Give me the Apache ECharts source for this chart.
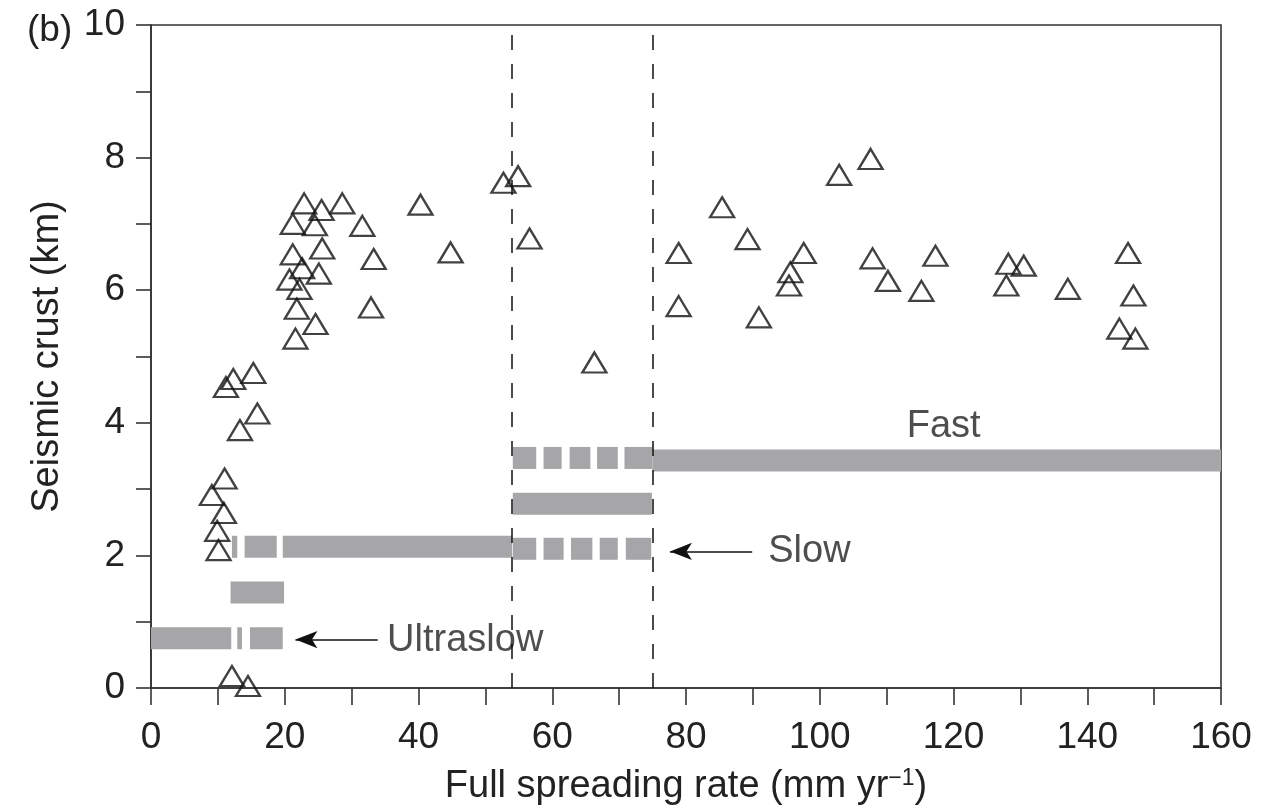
<!DOCTYPE html>
<html>
<head>
<meta charset="utf-8">
<script src="https://cdn.jsdelivr.net/npm/echarts@6/dist/echarts.min.js"></script>
<style>
  html, body { margin: 0; padding: 0; background: #fff; }
  #chart { width: 1271px; height: 811px; }
</style>
</head>
<body>
<div id="chart"></div>
<script>
// Spreading rate (mm/yr) and seismic crustal thickness (km) of each site
const rateX = [
  22.9, 25.5, 28.6, 40.3, 21.2, 24.5, 31.6, 21.2, 25.6, 33.3, 44.8,
  22.6, 25.1, 20.7, 22.2, 21.8, 32.9, 24.6, 21.6, 52.7, 54.9, 56.6,
  12.3, 15.3, 11.2, 15.9, 13.3, 11.0, 9.1, 10.9, 9.9, 10.1, 12.1, 14.5,
  66.3, 85.4, 102.9, 107.6, 78.9, 89.2, 97.6, 95.6, 95.4, 107.9, 110.2,
  78.9, 90.9, 117.3, 115.2, 128.2, 130.5, 127.9, 137.1, 146.1, 146.9,
  144.8, 147.2
];
const crustY = [
  7.31, 7.21, 7.31, 7.29, 7.00, 6.98, 6.97, 6.54, 6.63, 6.47, 6.57,
  6.33, 6.25, 6.16, 6.02, 5.72, 5.74, 5.49, 5.27, 7.62, 7.72, 6.78,
  4.66, 4.75, 4.54, 4.14, 3.89, 3.16, 2.91, 2.64, 2.37, 2.08, 0.18, 0.03,
  4.91, 7.25, 7.74, 7.98, 6.56, 6.77, 6.56, 6.27, 6.07, 6.48, 6.14,
  5.76, 5.59, 6.52, 5.99, 6.40, 6.37, 6.07, 6.02, 6.56, 5.92,
  5.42, 5.27
];

// Spreading-rate class bands: [rate from, rate to, crust level]
const ultraslowBand = [[0, 12.0, 0.75], [12.9, 13.6, 0.75], [14.8, 19.7, 0.75]];
const ultraslowUpper = [[11.9, 19.9, 1.44]];
const slowBand = [[12.1, 12.9, 2.13], [14.0, 18.8, 2.13], [19.7, 54.0, 2.13]];
const slowDashed = [[54.1, 57.6, 2.10], [58.7, 61.7, 2.10], [62.8, 66.0, 2.10], [67.1, 69.8, 2.10], [71.0, 74.8, 2.10]];
const intermediateBand = [[54.1, 74.9, 2.78]];
const fastDashed = [[54.1, 57.6, 3.47], [58.7, 61.4, 3.47], [62.6, 65.7, 3.47], [66.7, 69.8, 3.47], [70.8, 75.0, 3.47]];
const fastBand = [[75.0, 160.0, 3.43]];

// Class boundaries (mm/yr)
const boundaries = [54, 75];

// Class labels and their arrows
const classLabels = [
  { name: 'Ultraslow', value: [35.3, 0.71] },
  { name: 'Slow', value: [92.3, 2.06] },
  { name: 'Fast', value: [113.0, 3.94] }
];
const arrows = [
  { from: [33.9, 0.73], to: [21.6, 0.73] },
  { from: [89.9, 2.06], to: [77.6, 2.06] }
];

const xTicks = [0, 20, 40, 60, 80, 100, 120, 140, 160];
const yTicks = [0, 2, 4, 6, 8, 10];

const FONT = 'Liberation Sans, Arial, Helvetica, sans-serif';
const TEXT = '#222';
const FS = 37;
const BAND_GRAY = '#a6a6a8';
const BAND_PX = 22;

const bands = [].concat(ultraslowBand, ultraslowUpper, slowBand, slowDashed,
  intermediateBand, fastDashed, fastBand);

const chart = echarts.init(document.getElementById('chart'), null, { renderer: 'canvas' });

chart.setOption({
  animation: false,
  backgroundColor: '#fff',
  title: {
    text: '(b)',
    left: 22, top: 7,
    textStyle: { fontFamily: FONT, fontSize: FS, fontWeight: 'normal', color: TEXT }
  },
  grid: {
    left: 151, right: 50, top: 25, bottom: 121,
    show: true, borderColor: '#333', borderWidth: 1.6
  },
  xAxis: {
    type: 'value', min: 0, max: 160, interval: 10,
    name: 'Full spreading rate (mm yr{sup|\u22121})',
    nameLocation: 'middle', nameGap: 79,
    nameTextStyle: {
      fontFamily: FONT, fontSize: 38, color: TEXT,
      rich: { sup: { fontFamily: FONT, fontSize: 23, color: TEXT, verticalAlign: 'bottom', padding: [0, 0, 17, 0] } }
    },
    axisLine: { show: true, lineStyle: { color: '#333', width: 1.6 } },
    axisTick: { show: true, length: 17, lineStyle: { color: '#333', width: 1.6 } },
    axisLabel: {
      margin: 31, fontFamily: FONT, fontSize: FS, color: TEXT,
      formatter: v => (xTicks.indexOf(v) >= 0 ? String(v) : '')
    },
    splitLine: { show: false }
  },
  yAxis: {
    type: 'value', min: 0, max: 10, interval: 1,
    name: 'Seismic crust (km)',
    nameLocation: 'middle', nameGap: 84,
    nameTextStyle: { fontFamily: FONT, fontSize: 38, color: TEXT },
    axisLine: { show: true, lineStyle: { color: '#333', width: 1.6 } },
    axisTick: { show: true, length: 15, lineStyle: { color: '#333', width: 1.6 } },
    axisLabel: {
      margin: 26, fontFamily: FONT, fontSize: FS, color: TEXT,
      formatter: v => (yTicks.indexOf(v) >= 0 ? String(v) : '')
    },
    splitLine: { show: false }
  },
  series: [
    {
      // spreading-rate class bands
      type: 'custom',
      z: 2,
      renderItem: function (params, api) {
        const p0 = api.coord([api.value(0), api.value(2)]);
        const p1 = api.coord([api.value(1), api.value(2)]);
        return {
          type: 'rect',
          shape: { x: p0[0], y: p0[1] - BAND_PX / 2, width: p1[0] - p0[0], height: BAND_PX },
          style: { fill: BAND_GRAY }
        };
      },
      encode: { x: [0, 1], y: 2 },
      data: bands,
      silent: true
    },
    {
      // class boundaries
      type: 'line',
      data: [],
      z: 3,
      markLine: {
        silent: true,
        symbol: ['none', 'none'],
        label: { show: false },
        lineStyle: { color: '#111', width: 1.5, type: [15, 14] },
        data: boundaries.map(b => ({ xAxis: b }))
      }
    },
    {
      // arrows pointing at the class bands
      type: 'line',
      data: [],
      z: 3,
      markLine: {
        silent: true,
        symbol: ['none', 'arrow'],
        symbolSize: [13, 22],
        label: { show: false },
        lineStyle: { color: '#111', width: 1.6, type: 'solid' },
        data: arrows.map(a => [{ coord: a.from }, { coord: a.to }])
      }
    },
    {
      // class labels
      type: 'scatter',
      symbolSize: 0,
      z: 4,
      silent: true,
      data: classLabels,
      label: {
        show: true, position: 'right', distance: 0,
        formatter: p => p.name,
        fontFamily: FONT, fontSize: 38, color: TEXT
      }
    },
    {
      // measurement sites
      type: 'scatter',
      z: 5,
      clip: false,
      symbol: 'triangle',
      symbolSize: [24, 20],
      itemStyle: { color: 'rgba(255,255,255,0)', borderColor: '#111', borderWidth: 2.3 },
      data: rateX.map((x, i) => [x, crustY[i]])
    }
  ]
});
</script>
</body>
</html>
